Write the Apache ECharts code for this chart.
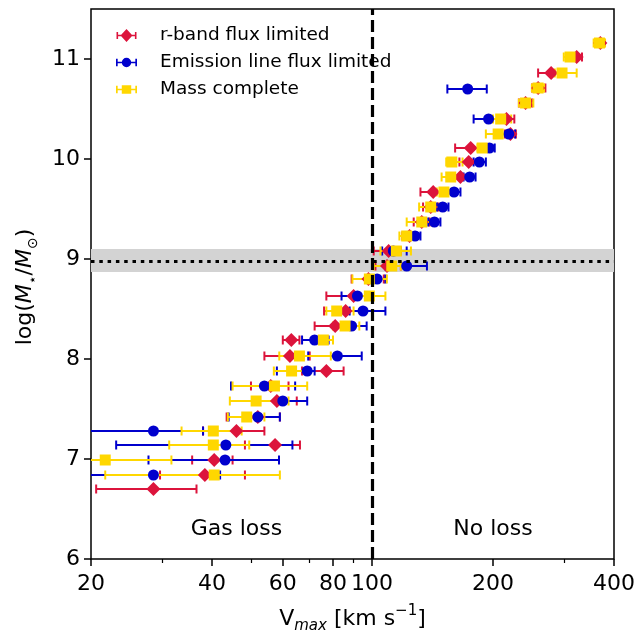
<!DOCTYPE html>
<html>
<head>
<meta charset="utf-8">
<script src="https://cdn.jsdelivr.net/npm/echarts@6/dist/echarts.min.js"></script>
<style>
html, body { margin: 0; padding: 0; background: #fff; }
#chart { width: 638px; height: 634px; }
</style>
</head>
<body>
<div id="chart"></div>
<script>
// r-band flux limited
var rbandY  = [11.16, 11.02, 10.86, 10.71, 10.56, 10.40, 10.25, 10.11, 9.97, 9.82, 9.67, 9.52, 9.37, 9.23, 9.08, 8.93, 8.80, 8.63, 8.48, 8.33, 8.19, 8.03, 7.88, 7.73, 7.58, 7.42, 7.28, 7.14, 6.99, 6.84, 6.70];
var rbandV  = [370, 323, 279, 259, 241, 216, 221, 176, 174, 166, 142, 140, 133, 124, 110, 109, 98, 90, 86, 81, 63, 62.5, 77, 56, 58, 52, 46, 57.4, 40.5, 38.4, 28.6];
var rbandLo = [362, 313, 259, 250, 232, 209, 214, 161, 165, 158, 132, 134, 127, 119, 101, 102, 89, 77, 76, 72, 60, 54, 67, 50, 52, 43.5, 38, 48.3, 35.7, 29.7, 20.6];
var rbandHi = [378, 333, 292, 270, 250, 226, 228, 192, 184, 176, 152, 146, 139, 129, 118, 118, 107, 100, 95, 90, 66, 70, 85, 62, 65, 59, 54, 66.2, 45, 48.3, 36.6];

// emission line flux limited
var emlY  = [10.70, 10.40, 10.25, 10.11, 9.97, 9.82, 9.67, 9.52, 9.37, 9.23, 9.08, 8.93, 8.80, 8.63, 8.48, 8.33, 8.19, 8.03, 7.88, 7.73, 7.58, 7.42, 7.28, 7.14, 6.99, 6.84];
var emlV  = [173, 195, 219, 196, 185, 175, 160, 150, 143, 128, 113, 122, 103, 92, 95, 89, 72, 82, 69, 54, 60, 52, 28.6, 43.3, 43.1, 28.6];
var emlLo = [154, 179, 210, 191, 179, 169, 153, 145, 138, 124, 106, 108, 99, 84, 88, 84, 67, 69.4, 58, 44.6, 52, 44, 18, 23.1, 27.8, 18];
var emlHi = [193, 211, 227, 202, 192, 181, 166, 155, 148, 132, 122, 137, 108, 100, 108, 97, 78, 94.3, 72, 64.4, 69, 59, 38, 63.4, 58.7, 41.9];

// mass complete
var massY  = [11.16, 11.02, 10.86, 10.71, 10.56, 10.40, 10.25, 10.11, 9.97, 9.82, 9.67, 9.52, 9.37, 9.23, 9.08, 8.93, 8.80, 8.63, 8.48, 8.33, 8.19, 8.03, 7.88, 7.73, 7.58, 7.42, 7.28, 7.14, 6.99, 6.84];
var massV  = [368, 311, 297, 259, 241, 209, 206, 188, 158, 157, 151, 140, 133, 122, 115, 112, 98.5, 98.5, 81.7, 85.7, 75.7, 66, 63.1, 57.2, 51.5, 48.8, 40.3, 40.3, 21.7, 40.5];
var massLo = [356, 300, 285, 250, 232, 200, 192, 183, 153, 149, 145, 131, 122, 117, 105, 101, 89.4, 92, 77, 80, 72, 58.8, 57, 45, 44.3, 43.8, 33.6, 31.3, 17, 21.7];
var massHi = [380, 318, 323, 268, 252, 222, 220, 196, 168, 165, 158, 148, 141, 127, 125, 118, 108.9, 108, 90, 93, 80, 79, 70, 69, 62, 54, 47.4, 49.5, 31.7, 59];

var xMajorTicks = [20, 40, 60, 80, 100, 200, 400];
var xMinorTicks = [30, 50, 70, 90, 300];
var yTicks = [6, 7, 8, 9, 10, 11];

var vSplit = 100;          // dashed vertical line
var mLimit = 8.98;         // dotted horizontal line
var mBand = [8.87, 9.10];  // grey band
var regionText = [[46, 6.3, 'Gas loss'], [200, 6.3, 'No loss']];

var chart = echarts.init(document.getElementById('chart'));

function zip4(v, y, lo, hi) {
    return v.map(function (x, i) { return [x, y[i], lo[i], hi[i]]; });
}

function errorBars(params, api) {
    var y = api.value(1);
    var p0 = api.coord([api.value(2), y]);
    var p1 = api.coord([api.value(3), y]);
    var cs = params.coordSys;
    var cap = 4.5;
    var style = { stroke: api.visual('color'), lineWidth: 2 };
    var children = [];
    var pts = echarts.graphic.clipPointsByRect([p0, p1], cs);
    children.push({ type: 'line', shape: { x1: pts[0][0], y1: pts[0][1], x2: pts[1][0], y2: pts[1][1] }, style: style });
    [p0, p1].forEach(function (p) {
        if (p[0] >= cs.x - 0.5 && p[0] <= cs.x + cs.width + 0.5) {
            children.push({ type: 'line', shape: { x1: p[0], y1: p[1] - cap, x2: p[0], y2: p[1] + cap }, style: style });
        }
    });
    return { type: 'group', children: children };
}

function regionLabel(params, api) {
    var p = api.coord([api.value(0), api.value(1)]);
    return {
        type: 'text',
        x: p[0], y: p[1],
        style: {
            text: regionText[params.dataIndex][2],
            fill: '#000', font: '22px "DejaVu Sans"',
            align: 'center', verticalAlign: 'middle'
        }
    };
}

var red = '#DC143C', blue = '#0000CD', gold = '#FFD700';

var barPath = 'M0,3h1.6v7h-1.6z M18.4,3h1.6v7h-1.6z M0,5.8h20v1.4h-20z ';
var iconRed = 'path://' + barPath + 'M10,0L16,6.5L10,13L4,6.5z';
var iconBlue = 'path://' + barPath + 'M5.5,6.5a4.5,4.5 0 1,1 9,0a4.5,4.5 0 1,1 -9,0z';
var iconGold = 'path://' + barPath + 'M5.5,2.5h9v8h-9z';

function makeSeries(name, color, symbol, size, v, y, lo, hi) {
    return [{
        name: name,
        type: 'custom',
        renderItem: errorBars,
        itemStyle: { color: color },
        encode: { x: [0, 2, 3], y: 1 },
        data: zip4(v, y, lo, hi),
        z: 2,
        silent: true
    }, {
        name: name,
        type: 'scatter',
        symbol: symbol,
        symbolSize: size,
        itemStyle: { color: color, opacity: 1 },
        data: v.map(function (x, i) { return [x, y[i]]; }),
        z: 2,
        silent: true
    }];
}

var font = 'DejaVu Sans';

var option = {
    animation: false,
    grid: {
        left: 91, right: 24, top: 9, bottom: 75,
        outerBoundsMode: 'none', containLabel: false,
        show: true, borderColor: '#000', borderWidth: 1.5, backgroundColor: 'transparent'
    },
    legend: {
        left: 116, top: 26, orient: 'vertical',
        padding: 0, itemGap: 8, itemWidth: 21, itemHeight: 13,
        textStyle: { fontFamily: font, fontSize: 18.5, color: '#000', padding: [0, 0, 0, 18] },
        data: [
            { name: 'r-band flux limited', icon: iconRed },
            { name: 'Emission line flux limited', icon: iconBlue },
            { name: 'Mass complete', icon: iconGold }
        ]
    },
    xAxis: [{
        type: 'log', logBase: 10, min: 20, max: 400,
        axisLine: { show: false },
        splitLine: { show: false },
        axisTick: { show: true, length: 7, lineStyle: { color: '#000', width: 1.5 }, customValues: xMajorTicks },
        axisLabel: { fontFamily: font, fontSize: 22, color: '#000', margin: 14, customValues: xMajorTicks, formatter: function (v) { return String(v); } },
        name: '{a|V}{sub|max}{a| [km s}{sup|\u22121}{a|]}',
        nameLocation: 'middle', nameGap: 45,
        nameTextStyle: {
            fontFamily: font, fontSize: 22, color: '#000',
            rich: {
                a: { fontFamily: font, fontSize: 22, color: '#000', lineHeight: 30, verticalAlign: 'middle' },
                sub: { fontFamily: font, fontSize: 15, fontStyle: 'italic', color: '#000', lineHeight: 15, verticalAlign: 'bottom' },
                sup: { fontFamily: font, fontSize: 15, color: '#000', lineHeight: 15, verticalAlign: 'top' }
            }
        }
    }, {
        type: 'log', logBase: 10, min: 20, max: 400, position: 'bottom',
        axisLine: { show: false },
        splitLine: { show: false },
        axisTick: { show: true, length: 4, lineStyle: { color: '#000', width: 1.2 }, customValues: xMinorTicks },
        axisLabel: { show: false }
    }],
    yAxis: {
        type: 'value', min: 6, max: 11.5, interval: 1,
        axisLine: { show: false },
        splitLine: { show: false },
        axisTick: { show: true, length: 7, lineStyle: { color: '#000', width: 1.5 }, customValues: yTicks },
        axisLabel: { fontFamily: font, fontSize: 22, color: '#000', margin: 11, customValues: yTicks },
        name: '{a|log(}{i|M}{s|\u22c6}{a|/}{i|M}{s|\u2299}{a|)}',
        nameLocation: 'middle', nameGap: 51, nameRotate: 90,
        nameTextStyle: {
            fontFamily: font, fontSize: 22, color: '#000', padding: [0, 6, 0, 0],
            rich: {
                a: { fontFamily: font, fontSize: 22, color: '#000', lineHeight: 30, verticalAlign: 'middle' },
                i: { fontFamily: font, fontSize: 22, fontStyle: 'italic', color: '#000', lineHeight: 30, verticalAlign: 'middle' },
                s: { fontFamily: font, fontSize: 14, color: '#000', lineHeight: 16, verticalAlign: 'bottom' }
            }
        }
    },
    series: [{
        type: 'line', data: [], z: 1, silent: true,
        markArea: {
            silent: true,
            itemStyle: { color: '#d3d3d3', opacity: 1 },
            data: [[{ yAxis: mBand[0] }, { yAxis: mBand[1] }]]
        }
    }].concat(
        makeSeries('r-band flux limited', red, 'diamond', 14, rbandV, rbandY, rbandLo, rbandHi),
        makeSeries('Emission line flux limited', blue, 'circle', 11, emlV, emlY, emlLo, emlHi),
        makeSeries('Mass complete', gold, 'rect', 11, massV, massY, massLo, massHi),
        [{
            type: 'custom', z: 5, silent: true,
            renderItem: regionLabel,
            encode: { x: 0, y: 1 },
            data: regionText.map(function (d) { return [d[0], d[1]]; }),
            markLine: {
                silent: true, symbol: ['none', 'none'],
                label: { show: false },
                data: [
                    { xAxis: vSplit, lineStyle: { color: '#000', width: 3.2, type: [12, 5] } },
                    { yAxis: mLimit, lineStyle: { color: '#000', width: 3.2, type: [3.5, 4.8] } }
                ]
            }
        }]
    )
};

chart.setOption(option);
</script>
</body>
</html>
